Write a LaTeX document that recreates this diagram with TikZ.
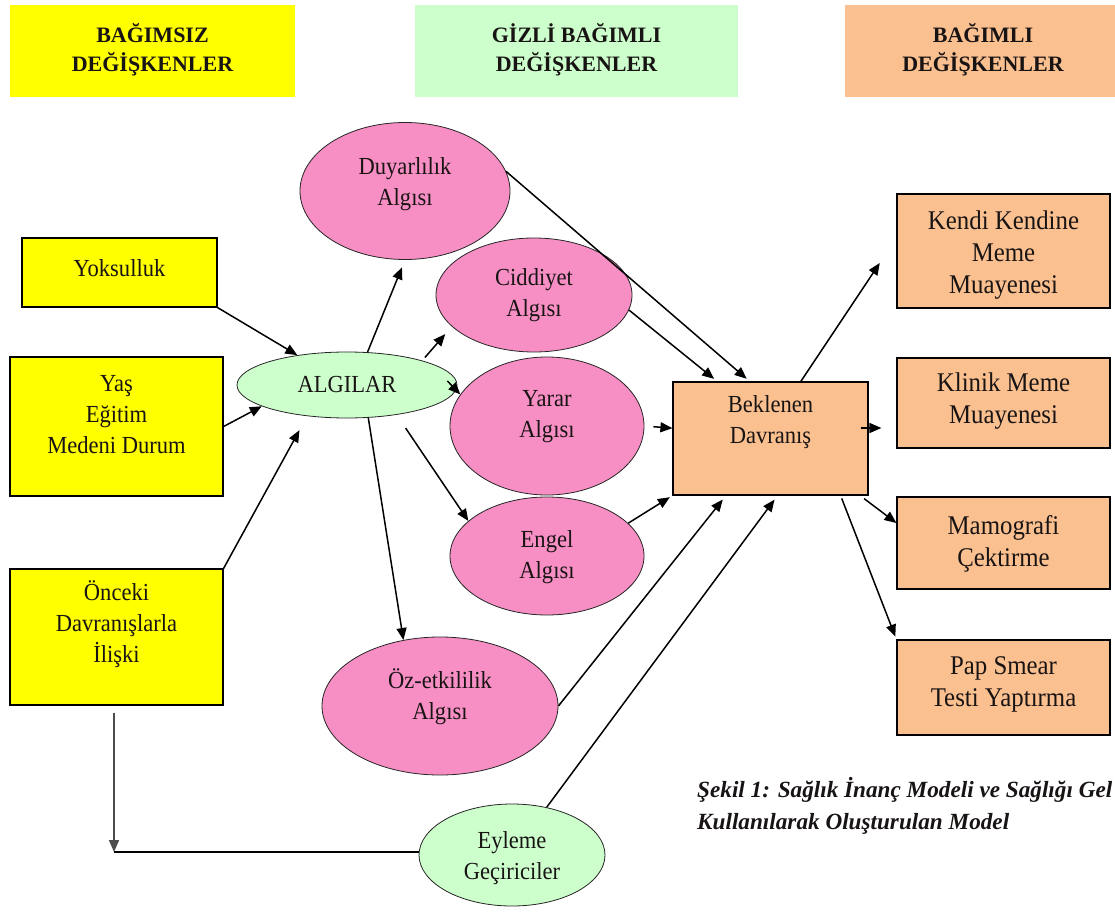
\documentclass[tikz,border=0pt]{standalone}
\usepackage{fontspec}
\setmainfont{Liberation Serif}
\newfontfamily\bodyfont[FakeStretch=0.92]{Liberation Serif}
\usetikzlibrary{shapes.geometric,arrows.meta,calc}
\definecolor{ylw}{RGB}{255,255,0}
\definecolor{lgreen}{RGB}{204,255,204}
\definecolor{peach}{RGB}{250,192,144}
\definecolor{pinkc}{RGB}{247,143,196}
\definecolor{ink}{RGB}{25,20,20}
\begin{document}
\begin{tikzpicture}[x=1pt,y=-1pt,
  hdr/.style={inner sep=0pt, outer sep=0pt},
  box/.style={draw=black, line width=1.2pt, inner sep=0pt},
  ybox/.style={box, fill=ylw},
  pbox/.style={box, fill=peach},
  ell/.style={ellipse, draw=black!85, line width=0.8pt, inner sep=0pt},
  pell/.style={ell, fill=pinkc},
  gell/.style={ell, fill=lgreen},
  txt/.style={align=center, font=\bodyfont\fontsize{24.5}{31}\selectfont, text=ink, inner sep=0pt},
  rtxt/.style={txt, font=\bodyfont\fontsize{27}{32}\selectfont},
  htxt/.style={align=center, font=\fontsize{22}{29}\selectfont\bfseries, text=ink, inner sep=0pt},
  arr/.style={-{Triangle[length=12pt,width=10pt]}, line width=1.5pt},
  lin/.style={line width=1.5pt}
]
\path[use as bounding box, clip] (0,0) rectangle (1115,917);
\fill[white] (0,0) rectangle (1115,917);

% headers
\node[hdr, fill=ylw, minimum width=285pt, minimum height=92pt] (h1) at (152.5,51) {};
\node[hdr, fill=lgreen, minimum width=323pt, minimum height=92pt] (h2) at (576.5,51) {};
\node[hdr, fill=peach, minimum width=280pt, minimum height=92pt] (h3) at (985,51) {};
\node[htxt] (h1t) at (152.5,50) {BAĞIMSIZ\\DEĞİŞKENLER};
\node[htxt] (h2t) at (576.5,50) {GİZLİ BAĞIMLI\\DEĞİŞKENLER};
\node[htxt] (h3t) at (983,50) {BAĞIMLI\\DEĞİŞKENLER};

% left boxes
\node[ybox, minimum width=195pt, minimum height=69pt] (yok) at (119.5,272.5) {};
\node[ybox, minimum width=213pt, minimum height=139pt] (yas) at (116.5,426.5) {};
\node[ybox, minimum width=213pt, minimum height=136pt] (onc) at (116.5,637) {};

% ellipses
\node[gell, minimum width=220pt, minimum height=66pt] (alg) at (347,385) {};
\node[pell, minimum width=210pt, minimum height=137pt] (duy) at (405,191) {};
\node[pell, minimum width=196pt, minimum height=114pt] (cid) at (534,295) {};
\node[pell, minimum width=194pt, minimum height=138pt] (yar) at (547,426) {};
\node[pell, minimum width=194pt, minimum height=118pt] (eng) at (547,556) {};
\node[pell, minimum width=236pt, minimum height=138pt] (oz) at (440,706) {};
\node[gell, minimum width=186pt, minimum height=102pt] (eyl) at (512,855) {};

% right boxes
\node[pbox, minimum width=195pt, minimum height=113pt] (bek) at (770.5,438.5) {};
\node[pbox, minimum width=213pt, minimum height=114pt] (kdi) at (1003.5,251) {};
\node[pbox, minimum width=213pt, minimum height=90pt] (kli) at (1003.5,403) {};
\node[pbox, minimum width=213pt, minimum height=92pt] (mam) at (1003.5,543) {};
\node[pbox, minimum width=213pt, minimum height=95pt] (pap) at (1003.5,687.5) {};

% texts
\node[txt] (yokt) at (119.5,268) {Yoksulluk};
\node[txt] (yast) at (116.5,415) {Yaş\\Eğitim\\Medeni Durum};
\node[txt] (onct) at (116.5,624) {Önceki\\Davranışlarla\\İlişki};
\node[txt] (algt) at (347,385) {ALGILAR};
\node[txt] (duyt) at (405,184) {Duyarlılık\\Algısı};
\node[txt] (cidt) at (534,295) {Ciddiyet\\Algısı};
\node[txt] (yart) at (547,417) {Yarar\\Algısı};
\node[txt] (engt) at (547,557) {Engel\\Algısı};
\node[txt] (ozt) at (440,697) {Öz-etkililik\\Algısı};
\node[txt] (eylt) at (512,858) {Eyleme\\Geçiriciler};
\node[txt] (bekt) at (770.5,422.5) {Beklenen\\Davranış};
\node[rtxt] (kdit) at (1003.5,255) {Kendi Kendine\\Meme\\Muayenesi};
\node[rtxt] (klit) at (1003.5,401) {Klinik Meme\\Muayenesi};
\node[rtxt] (mamt) at (1003.5,543.5) {Mamografi\\Çektirme};
\node[rtxt] (papt) at (1003.5,684) {Pap Smear\\Testi Yaptırma};

% caption
\node[anchor=west, align=left, inner sep=0pt, text=ink,
      font=\fontsize{23.2}{32}\selectfont\bfseries\itshape] (cap) at (697,806)
  {Şekil 1: Sağlık İnanç Modeli ve Sağlığı Gel\\Kullanılarak Oluşturulan Model};

% connectors
\draw[arr] (yok.south east) -- (alg.149);
\draw[arr] (yas.east) -- (alg.194);
\draw[arr, shorten >=16pt] (onc.north east) -- (alg.218);
\draw[arr, shorten >=8pt] (alg.58) -- (duy.270);
\draw[arr, shorten <=4pt, shorten >=10pt] (alg.18) -- (cid.201);
\draw[arr] ([xshift=-10pt,yshift=4pt]alg.east) -- (yar.160);
\draw[arr, shorten <=16pt] (alg.-31) -- (eng.156);
\draw[arr] (alg.-57) -- (oz.119);
\draw[arr, shorten >=4pt] (duy.11) -- (bek.110);
\draw[arr, shorten >=4pt] (cid.-9) -- (bek.133);
\draw[arr, shorten <=9pt] (yar.east) -- (bek.174);
\draw[arr, shorten >=3pt] (eng.22) -- (bek.south west);
\draw[arr, shorten >=5pt] (oz.east) -- (bek.-128);
\draw[arr, shorten >=5pt] (eyl.54) -- (bek.-83);
\draw[arr, shorten >=30pt] (bek.62) -- ([yshift=13pt]kdi.west);
\draw[arr, shorten >=15pt] ([xshift=-8pt,yshift=10.5pt]bek.east) -- ([yshift=-25pt]kli.west);
\draw[arr, shorten <=5pt] ([xshift=-8.5pt]bek.south east) -- ([yshift=20pt]mam.west);
\draw[arr, shorten <=3pt, shorten >=3pt] ([xshift=-28pt]bek.south east) -- (pap.north west);
\coordinate (corner) at (114,852);
\draw[arr, draw=black!70, fill=black, shorten <=7pt] (onc.south -| corner) -- (corner);
\draw[lin] (corner) -- (corner -| eyl.west);
\end{tikzpicture}
\end{document}
